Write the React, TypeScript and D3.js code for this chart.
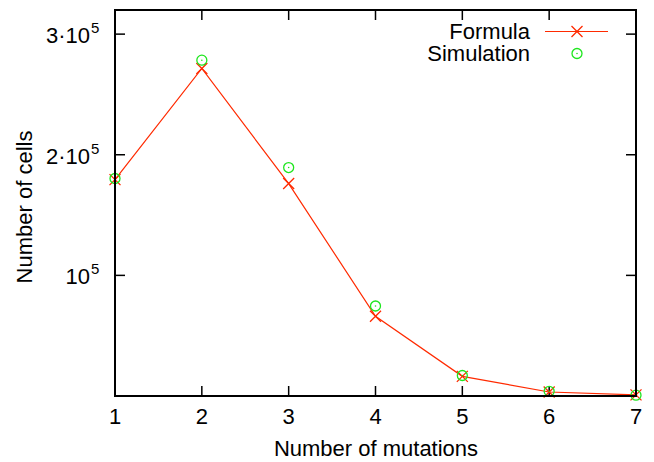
import React from "react";
import * as d3 from "d3";

const mutations = [1, 2, 3, 4, 5, 6, 7];
const formulaValues = [179400, 271500, 176100, 66100, 16300, 3300, 900];
const simulationValues = [180300, 278400, 189400, 74600, 17000, 3900, 700];
const xTicks = [1, 2, 3, 4, 5, 6, 7];
const yTicks = [100000, 200000, 300000];
const yTickMantissa = ["", "2·", "3·"];

const W = 654;
const H = 462;
const M = { left: 115, right: 636, top: 10, bottom: 396 };
const RED = "#ff2a00";
const GREEN = "#1ee61e";
const FONT = "'Liberation Sans', Arial, Helvetica, sans-serif";

export default function App() {
  const x = d3.scaleLinear().domain([1, 7]).range([M.left, M.right]);
  const y = d3.scaleLinear().domain([0, 320000]).range([M.bottom, M.top]);
  const line = d3
    .line<number>()
    .x((_, i) => x(mutations[i]))
    .y((d) => y(d));

  const cross = (cx: number, cy: number, k: string) => {
    const s = 5.5;
    return (
      <path
        key={k}
        d={`M${cx - s},${cy - s}L${cx + s},${cy + s}M${cx - s},${cy + s}L${cx + s},${cy - s}`}
        stroke={RED}
        strokeWidth={1.3}
        fill="none"
      />
    );
  };
  const circ = (cx: number, cy: number, k: string) => (
    <g key={k}>
      <circle cx={cx} cy={cy} r={5} stroke={GREEN} strokeWidth={1.3} fill="none" />
      <circle cx={cx} cy={cy} r={0.8} fill={GREEN} />
    </g>
  );

  return (
    <svg
      width={W}
      height={H}
      style={{ position: "absolute", left: 0, top: 0, background: "#fff" }}
      fontFamily={FONT}
    >
      {/* ticks */}
      {xTicks.map((t) => (
        <g key={"xt" + t}>
          <line x1={x(t)} x2={x(t)} y1={M.bottom} y2={M.bottom - 10} stroke="#000" strokeWidth={1.5} />
          <line x1={x(t)} x2={x(t)} y1={M.top} y2={M.top + 10} stroke="#000" strokeWidth={1.5} />
          <text x={x(t)} y={424} fontSize={22} textAnchor="middle" fill="#000">
            {t}
          </text>
        </g>
      ))}
      {yTicks.map((t, i) => (
        <g key={"yt" + t}>
          <line x1={M.left} x2={M.left + 10} y1={y(t)} y2={y(t)} stroke="#000" strokeWidth={1.5} />
          <line x1={M.right} x2={M.right - 10} y1={y(t)} y2={y(t)} stroke="#000" strokeWidth={1.5} />
          <text x={90} y={y(t) + 9} fontSize={22} textAnchor="end" fill="#000">
            {yTickMantissa[i] + "10"}
          </text>
          <text x={91} y={y(t) - 1} fontSize={15} textAnchor="start" fill="#000">
            5
          </text>
        </g>
      ))}
      {/* series */}
      <path d={line(formulaValues) || ""} stroke={RED} strokeWidth={1.2} fill="none" />
      {formulaValues.map((v, i) => cross(x(mutations[i]), y(v), "f" + i))}
      {simulationValues.map((v, i) => circ(x(mutations[i]), y(v), "s" + i))}
      {/* border */}
      <rect
        x={M.left}
        y={M.top}
        width={M.right - M.left}
        height={M.bottom - M.top}
        fill="none"
        stroke="#000"
        strokeWidth={2}
      />
      {/* legend */}
      <text x={530} y={38.5} fontSize={22} textAnchor="end" fill="#000">
        Formula
      </text>
      <line x1={545} x2={608} y1={31.5} y2={31.5} stroke={RED} strokeWidth={1.2} />
      {cross(577, 31.5, "lf")}
      <text x={530} y={60.5} fontSize={22} textAnchor="end" fill="#000">
        Simulation
      </text>
      {circ(577, 53.5, "ls")}
      {/* axis titles */}
      <text x={376} y={456} fontSize={22} textAnchor="middle" fill="#000">
        Number of mutations
      </text>
      <text
        transform={`translate(32,207) rotate(-90)`}
        fontSize={22}
        textAnchor="middle"
        fill="#000"
      >
        Number of cells
      </text>
    </svg>
  );
}
